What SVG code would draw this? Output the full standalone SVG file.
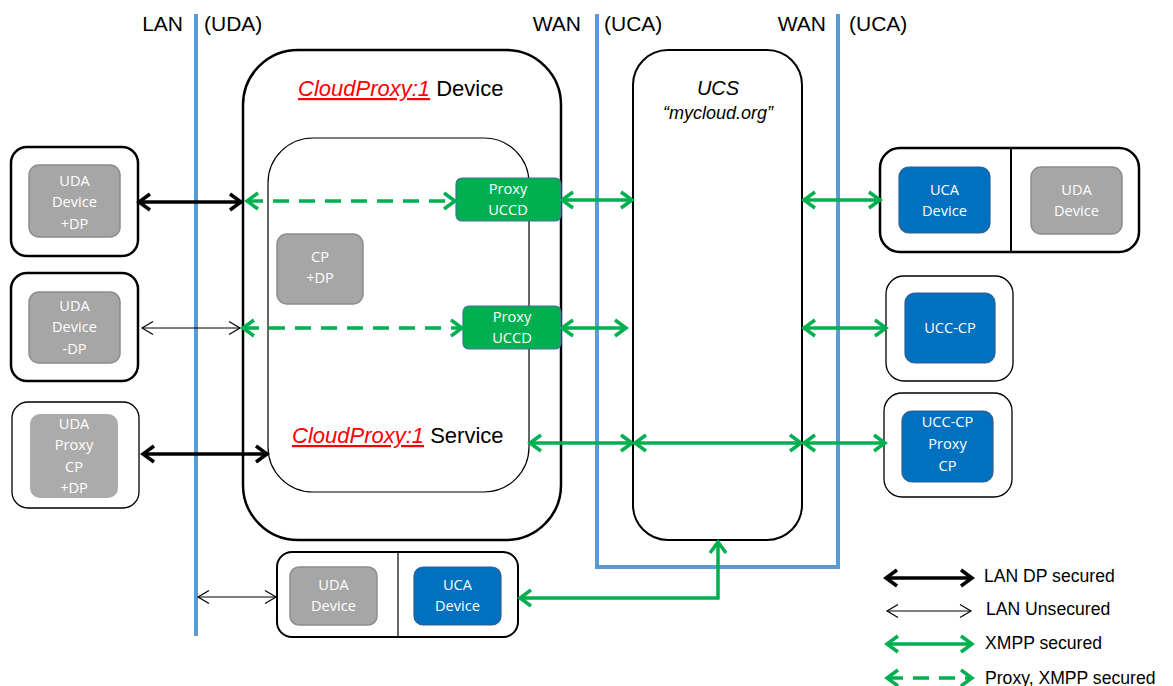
<svg xmlns="http://www.w3.org/2000/svg" width="1173" height="686" viewBox="0 0 1173 686">
<style>
.lbl{font-family:"Liberation Sans",Arial,sans-serif;font-size:21px;fill:#000}
.big{font-family:"Liberation Sans",Arial,sans-serif;font-size:22px;fill:#000}
.red{fill:#FF0000;font-style:italic;text-decoration:underline}
.leg{font-family:"Liberation Sans",Arial,sans-serif;font-size:17.6px;fill:#000}
.in{font-family:"Open Sans","Liberation Sans",sans-serif;font-size:14.6px;fill:#FFFFFF;text-anchor:middle}
.gray{fill:#A6A6A6;stroke:#8C8C8C;stroke-width:1.5}
.blue{fill:#0070C0;stroke:#2F5F8F;stroke-width:1.2}
.grn{fill:#00B050;stroke:#41719C;stroke-width:1.2}
.outer{fill:#FFFFFF;stroke:#000;stroke-width:2.5}
.outerT{fill:#FFFFFF;stroke:#000;stroke-width:1.3}
.net{fill:none;stroke:#5B9BD5;stroke-width:4}
.cBk{fill:none;stroke:#000;stroke-width:3.5;marker-start:url(#mBk);marker-end:url(#mBk)}
.cTh{fill:none;stroke:#000;stroke-width:1;marker-start:url(#mTh);marker-end:url(#mTh)}
.cGr{fill:none;stroke:#00B050;stroke-width:3.5;marker-start:url(#mGr);marker-end:url(#mGr)}
.cGd{fill:none;stroke:#00B050;stroke-width:3.5;stroke-dasharray:16 10;marker-start:url(#mGr);marker-end:url(#mGr)}
</style>
<defs>
<marker id="mBk" markerUnits="userSpaceOnUse" viewBox="0 0 16 20" refX="13" refY="10" markerWidth="16" markerHeight="20" orient="auto-start-reverse"><path d="M2,2 L13,10 L2,18" fill="none" stroke="#000" stroke-width="3.5"/></marker>
<marker id="mTh" markerUnits="userSpaceOnUse" viewBox="0 0 14 16" refX="12" refY="8" markerWidth="14" markerHeight="16" orient="auto-start-reverse"><path d="M1,1.5 L12,8 L1,14.5" fill="none" stroke="#000" stroke-width="1.2"/></marker>
<marker id="mGr" markerUnits="userSpaceOnUse" viewBox="0 0 16 20" refX="13" refY="10" markerWidth="16" markerHeight="20" orient="auto-start-reverse"><path d="M2,2 L13,10 L2,18" fill="none" stroke="#00B050" stroke-width="3.5"/></marker>
</defs>
<rect width="1173" height="686" fill="#FFFFFF"/>

<g id="networks">
<line class="net" x1="196" y1="14" x2="196" y2="636"/>
<path class="net" d="M597,14 V567 H838 V14"/>
<text class="lbl" x="183" y="31" text-anchor="end">LAN</text>
<text class="lbl" x="204" y="31">(UDA)</text>
<text class="lbl" x="581" y="31" text-anchor="end">WAN</text>
<text class="lbl" x="604" y="31">(UCA)</text>
<text class="lbl" x="826" y="31" text-anchor="end">WAN</text>
<text class="lbl" x="849" y="31">(UCA)</text>
</g>

<g id="cloudproxy-device">
<rect class="outer" x="243" y="50" width="318" height="490" rx="55" ry="55"/>
<text class="big" x="298" y="96"><tspan class="red">CloudProxy:1</tspan> Device</text>
</g>

<g id="cloudproxy-service">
<rect x="268" y="138" width="261" height="354" rx="45" ry="45" fill="#FFFFFF" stroke="#000" stroke-width="1.2"/>
<text class="big" x="292" y="443"><tspan class="red">CloudProxy:1</tspan> Service</text>
</g>

<g id="cp-dp">
<rect class="gray" x="277" y="234" width="86" height="70" rx="10"/>
<text class="in"><tspan x="320" y="262">CP</tspan><tspan x="320" y="283">+DP</tspan></text>
</g>

<g id="proxy-uccd-1">
<rect class="grn" x="456" y="178" width="105" height="43" rx="6"/>
<text class="in"><tspan x="508" y="194">Proxy</tspan><tspan x="508" y="215">UCCD</tspan></text>
</g>

<g id="proxy-uccd-2">
<rect class="grn" x="463" y="306" width="98" height="43" rx="6"/>
<text class="in"><tspan x="512" y="322">Proxy</tspan><tspan x="512" y="343">UCCD</tspan></text>
</g>

<g id="ucs">
<rect x="633" y="50" width="169" height="490" rx="35" ry="35" fill="#FFFFFF" stroke="#000" stroke-width="2"/>
<text x="718" y="95" text-anchor="middle" font-family="Liberation Sans, Arial, sans-serif" font-size="20" font-style="italic">UCS</text>
<text x="718" y="119" text-anchor="middle" font-family="Liberation Sans, Arial, sans-serif" font-size="18" font-style="italic">“mycloud.org”</text>
</g>

<g id="uda-device-dp">
<rect class="outer" x="11" y="147" width="127" height="109" rx="16"/>
<rect class="gray" x="29" y="165" width="91" height="72" rx="10"/>
<text class="in"><tspan x="74.5" y="186">UDA</tspan><tspan x="74.5" y="207">Device</tspan><tspan x="74.5" y="229">+DP</tspan></text>
</g>

<g id="uda-device-nodp">
<rect class="outer" x="11" y="273" width="127" height="108" rx="16"/>
<rect class="gray" x="29" y="292" width="91" height="71" rx="10"/>
<text class="in"><tspan x="74.5" y="311">UDA</tspan><tspan x="74.5" y="332">Device</tspan><tspan x="74.5" y="354">-DP</tspan></text>
</g>

<g id="uda-proxy-cp">
<rect class="outerT" x="12" y="402" width="127" height="106" rx="16"/>
<rect x="30" y="414" width="88" height="84" rx="10" fill="#ABABAB"/>
<text class="in"><tspan x="74" y="429">UDA</tspan><tspan x="74" y="450">Proxy</tspan><tspan x="74" y="472">CP</tspan><tspan x="74" y="493">+DP</tspan></text>
</g>

<g id="uca-uda-device-right">
<rect class="outer" x="880" y="148" width="259" height="104" rx="20"/>
<line x1="1011" y1="148" x2="1011" y2="252" stroke="#000" stroke-width="2"/>
<rect class="blue" x="899" y="167" width="91" height="66" rx="10"/>
<text class="in"><tspan x="944.5" y="195">UCA</tspan><tspan x="944.5" y="216">Device</tspan></text>
<rect class="gray" x="1031" y="167" width="91" height="67" rx="10"/>
<text class="in"><tspan x="1076.5" y="195">UDA</tspan><tspan x="1076.5" y="216">Device</tspan></text>
</g>

<g id="ucc-cp">
<rect class="outerT" x="886" y="276" width="127" height="105" rx="18"/>
<rect class="blue" x="905" y="293" width="90" height="70" rx="10"/>
<text class="in"><tspan x="950" y="333">UCC-CP</tspan></text>
</g>

<g id="ucc-cp-proxy">
<rect class="outerT" x="884" y="393" width="128" height="104" rx="18"/>
<rect class="blue" x="902" y="411" width="91" height="71" rx="10"/>
<text class="in"><tspan x="947.5" y="427">UCC-CP</tspan><tspan x="947.5" y="449">Proxy</tspan><tspan x="947.5" y="471">CP</tspan></text>
</g>

<g id="uda-uca-device-bottom">
<rect x="277" y="552" width="241" height="85" rx="15" fill="#FFFFFF" stroke="#000" stroke-width="2"/>
<line x1="398" y1="552" x2="398" y2="637" stroke="#000" stroke-width="1.2"/>
<rect class="gray" x="290" y="567" width="87" height="58" rx="9"/>
<text class="in"><tspan x="333.5" y="590">UDA</tspan><tspan x="333.5" y="611">Device</tspan></text>
<rect class="blue" x="414" y="567" width="87" height="58" rx="9"/>
<text class="in"><tspan x="457.5" y="590">UCA</tspan><tspan x="457.5" y="611">Device</tspan></text>
</g>

<g id="connectors">
<line class="cBk" x1="139" y1="202" x2="241" y2="202"/>
<line class="cTh" x1="142" y1="328" x2="240" y2="328"/>
<line class="cBk" x1="143" y1="454" x2="267" y2="454"/>
<line class="cGd" x1="247" y1="201" x2="455" y2="201"/>
<line class="cGd" x1="243" y1="328" x2="462" y2="328"/>
<line class="cGr" x1="562" y1="200" x2="632" y2="200"/>
<line class="cGr" x1="562" y1="328" x2="626" y2="328"/>
<line class="cGr" x1="530" y1="443" x2="632" y2="443"/>
<line class="cGr" x1="635" y1="443" x2="801" y2="443"/>
<line class="cGr" x1="804" y1="443" x2="885" y2="443"/>
<line class="cGr" x1="804" y1="200" x2="880" y2="200"/>
<line class="cGr" x1="804" y1="328" x2="886" y2="328"/>
<line class="cTh" x1="198" y1="597" x2="276" y2="597"/>
<path class="cGr" d="M718,542 V598 H520"/>
</g>

<g id="legend">
<line class="cBk" x1="886" y1="578" x2="972" y2="578"/>
<text class="leg" x="984" y="582">LAN DP secured</text>
<line class="cTh" x1="887" y1="611" x2="971" y2="611"/>
<text class="leg" x="986" y="615">LAN Unsecured</text>
<line class="cGr" x1="887" y1="644" x2="972" y2="644"/>
<text class="leg" x="985" y="649">XMPP secured</text>
<line class="cGd" x1="887" y1="678" x2="972" y2="678" stroke-dasharray="11 9"/>
<text class="leg" x="985" y="684">Proxy, XMPP secured</text>
</g>
</svg>
